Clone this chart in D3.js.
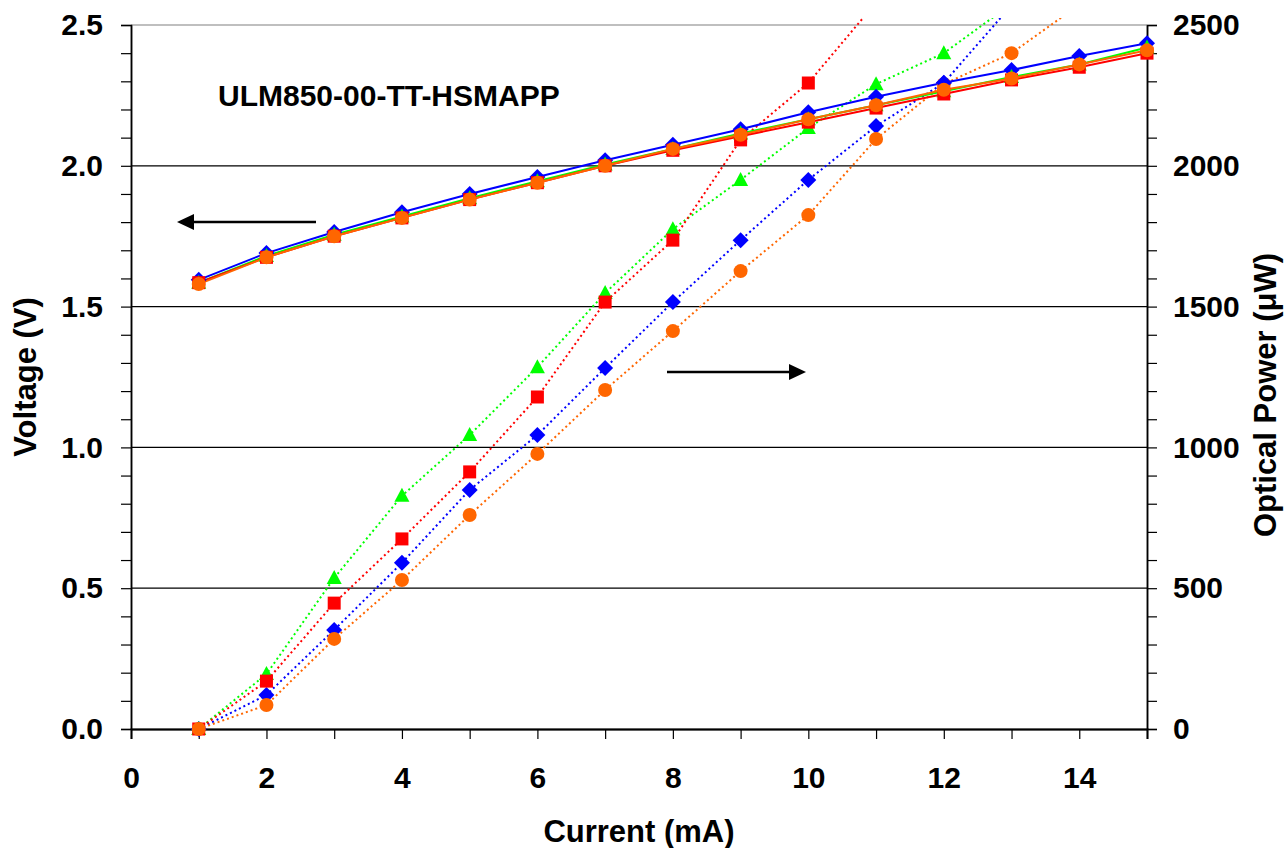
<!DOCTYPE html>
<html>
<head>
<meta charset="utf-8">
<script src="https://cdn.jsdelivr.net/npm/d3@7"></script>
<style>
  html, body { margin: 0; padding: 0; background: #fff; }
  svg { display: block; font-family: "Liberation Sans", Arial, sans-serif; }
</style>
</head>
<body>
<svg id="chart" width="1284" height="848"></svg>
<script>
// ---------- data ----------
const current = [1, 2, 3, 4, 5, 6, 7, 8, 9, 10, 11, 12, 13, 14, 15];

const voltBlue   = [1.595, 1.69, 1.765, 1.835, 1.90, 1.96, 2.02, 2.075, 2.13, 2.19, 2.245, 2.295, 2.34, 2.39, 2.435];
const voltGreen  = [1.585, 1.68, 1.755, 1.82, 1.885, 1.945, 2.005, 2.06, 2.115, 2.165, 2.215, 2.265, 2.315, 2.36, 2.42];
const voltRed    = [1.585, 1.675, 1.75, 1.815, 1.88, 1.94, 2.0, 2.055, 2.105, 2.155, 2.205, 2.255, 2.305, 2.35, 2.40];
const voltOrange = [1.58, 1.675, 1.75, 1.815, 1.88, 1.94, 2.0, 2.06, 2.11, 2.165, 2.215, 2.27, 2.31, 2.36, 2.41];

const powGreen  = [0, 195, 536, 828, 1044, 1285, 1548, 1775, 1950, 2134, 2290, 2400, 2575];
const powRed    = [0, 170, 447, 675, 913, 1179, 1516, 1736, 2092, 2294, 2580];
const powBlue   = [0, 121, 352, 590, 849, 1044, 1282, 1516, 1736, 1950, 2141, 2294, 2570];
const powOrange = [0, 85, 320, 529, 760, 977, 1204, 1413, 1626, 1825, 2095, 2290, 2400, 2572];

const xTicks = [0, 2, 4, 6, 8, 10, 12, 14];
const yLeftTicks = [0, 0.5, 1.0, 1.5, 2.0, 2.5];
const yRightTicks = [0, 500, 1000, 1500, 2000, 2500];

const chartTitle = "ULM850-00-TT-HSMAPP";
const xTitle = "Current (mA)";
const yLeftTitle = "Voltage (V)";
const yRightTitle = "Optical Power (\u03bcW)";

// ---------- layout ----------
const svg = d3.select("#chart");
const L = 131, R = 1147, T = 25, B = 729;
const x = d3.scaleLinear().domain([0, 15]).range([L, R]);
const yV = d3.scaleLinear().domain([0, 2.5]).range([B, T]);
const yP = d3.scaleLinear().domain([0, 2500]).range([B, T]);

const colors = { blue: "#0000ff", green: "#00ff00", red: "#ff0000", orange: "#ff6600" };

svg.append("defs").append("clipPath").attr("id", "clip")
  .append("rect").attr("x", L).attr("y", T - 7).attr("width", R - L).attr("height", B - T + 7);

// gridlines
svg.append("g").selectAll("line").data(yLeftTicks.filter(d => d > 0)).join("line")
  .attr("x1", L).attr("x2", R).attr("y1", d => yV(d)).attr("y2", d => yV(d))
  .attr("stroke", d => d === 2.5 ? "#808080" : "#000").attr("stroke-width", 1.2);

// axes
const fontTick = "bold 30px 'Liberation Sans', Arial, sans-serif";

const axL = svg.append("g").attr("transform", `translate(${L},0)`)
  .call(d3.axisLeft(yV).tickValues(d3.range(0, 2.5001, 0.1)).tickSize(10).tickFormat(""));
axL.append("g").call(d3.axisLeft(yV).tickValues(yLeftTicks).tickSize(0).tickPadding(28).tickFormat(d3.format(".1f")));
const axR = svg.append("g").attr("transform", `translate(${R},0)`)
  .call(d3.axisRight(yP).tickValues(d3.range(0, 2500.1, 100)).tickSize(10).tickFormat(""));
axR.append("g").call(d3.axisRight(yP).tickValues(yRightTicks).tickSize(0).tickPadding(26).tickFormat(d3.format("d")));
const axB = svg.append("g").attr("transform", `translate(0,${B})`)
  .call(d3.axisBottom(x).tickValues(d3.range(0, 16, 1)).tickSize(10).tickFormat(""));
axB.append("g").call(d3.axisBottom(x).tickValues(xTicks).tickSize(0).tickPadding(38).tickFormat(d3.format("d")));

svg.selectAll(".domain").attr("stroke", "#000").attr("stroke-width", 1.5);
axB.select(".domain").attr("stroke-width", 2);
svg.selectAll(".tick line").attr("stroke", "#000").attr("stroke-width", 1.2);
svg.selectAll(".tick text").style("font", fontTick).attr("fill", "#000");
axL.select("g").select(".domain").remove();
axR.select("g").select(".domain").remove();
axB.select("g").select(".domain").remove();

// ---------- series ----------
const diamond = "M0,-8L8,0L0,8L-8,0Z";
const square = "M-6.5,-6.5H6.5V6.5H-6.5Z";
const triangle = "M0,-8L7.5,6L-7.5,6Z";
const circle = d3.symbol().type(d3.symbolCircle).size(Math.PI * 7 * 7)();

const series = [
  { v: voltBlue,   p: powBlue,   c: colors.blue,   m: diamond },
  { v: voltGreen,  p: powGreen,  c: colors.green,  m: triangle },
  { v: voltRed,    p: powRed,    c: colors.red,    m: square },
  { v: voltOrange, p: powOrange, c: colors.orange, m: circle }
];

const plot = svg.append("g");
const lines = plot.append("g").attr("clip-path", "url(#clip)");
const marks = plot.append("g");

// power (dotted)
series.forEach(s => {
  const pts = s.p.map((d, i) => [current[i], d]);
  lines.append("path").datum(pts)
    .attr("fill", "none").attr("stroke", s.c).attr("stroke-width", 2)
    .attr("stroke-dasharray", "2,3")
    .attr("d", d3.line().x(d => x(d[0])).y(d => yP(d[1])));
});
// voltage (solid)
series.forEach(s => {
  const pts = s.v.map((d, i) => [current[i], d]);
  lines.append("path").datum(pts)
    .attr("fill", "none").attr("stroke", s.c).attr("stroke-width", 2)
    .attr("d", d3.line().x(d => x(d[0])).y(d => yV(d[1])));
});
// markers
series.forEach(s => {
  const pts = s.p.map((d, i) => [current[i], d]).filter(d => d[1] <= 2500);
  marks.append("g").selectAll("path").data(pts).join("path")
    .attr("d", s.m).attr("fill", s.c)
    .attr("transform", d => `translate(${x(d[0])},${yP(d[1])})`);
});
series.forEach(s => {
  const pts = s.v.map((d, i) => [current[i], d]);
  marks.append("g").selectAll("path").data(pts).join("path")
    .attr("d", s.m).attr("fill", s.c)
    .attr("transform", d => `translate(${x(d[0])},${yV(d[1])})`);
});

// ---------- annotations ----------
svg.append("text").attr("x", 218).attr("y", 106)
  .style("font", "bold 30px 'Liberation Sans', Arial, sans-serif").text(chartTitle);

// arrows
const arrowY1 = 222, arrowY2 = 372;
svg.append("line").attr("x1", 190).attr("x2", 316).attr("y1", arrowY1).attr("y2", arrowY1)
  .attr("stroke", "#000").attr("stroke-width", 2.5);
svg.append("path").attr("d", `M177,${arrowY1}L194,${arrowY1 - 8}L194,${arrowY1 + 8}Z`).attr("fill", "#000");
svg.append("line").attr("x1", 667).attr("x2", 792).attr("y1", arrowY2).attr("y2", arrowY2)
  .attr("stroke", "#000").attr("stroke-width", 2.5);
svg.append("path").attr("d", `M806,${arrowY2}L789,${arrowY2 - 8}L789,${arrowY2 + 8}Z`).attr("fill", "#000");

// axis titles
const fontTitle = "bold 31px 'Liberation Sans', Arial, sans-serif";
svg.append("text").attr("x", (L + R) / 2).attr("y", 842).attr("text-anchor", "middle")
  .style("font", fontTitle).text(xTitle);
svg.append("text").attr("transform", `translate(36,${(T + B) / 2})`).append("tspan")
  .attr("transform", "rotate(-90)");
svg.append("text").attr("transform", `translate(36,${(T + B) / 2}) rotate(-90)`).attr("text-anchor", "middle")
  .style("font", fontTitle).text(yLeftTitle);
svg.append("text").attr("transform", `translate(1276,${(T + B) / 2 + 18}) rotate(-90)`).attr("text-anchor", "middle")
  .style("font", fontTitle).text(yRightTitle);
</script>
</body>
</html>
